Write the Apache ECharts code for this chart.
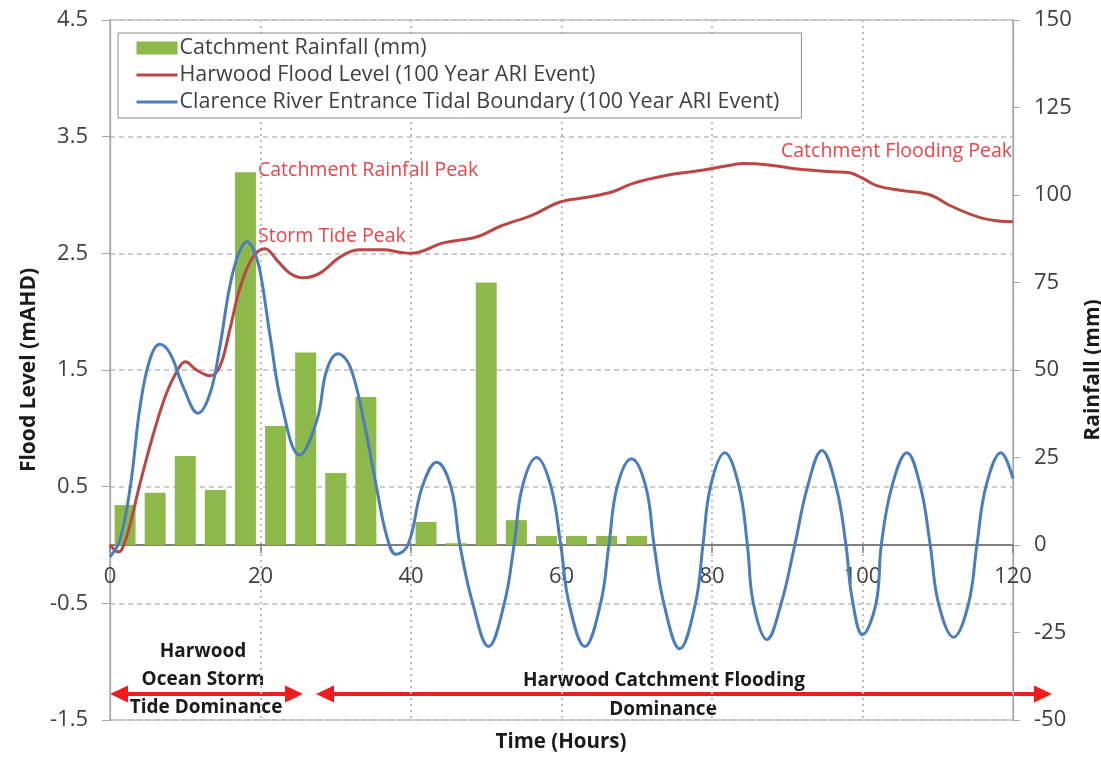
<!DOCTYPE html>
<html>
<head>
<meta charset="utf-8">
<script src="https://cdn.jsdelivr.net/npm/echarts@6/dist/echarts.min.js"></script>
<style>
html,body{margin:0;padding:0;background:#fff;}
#chart{width:1101px;height:767px;}
</style>
</head>
<body>
<div id="chart"></div>
<script>
// ---------- data ----------
const xTicks = [0, 20, 40, 60, 80, 100, 120];
const leftTicks = [-1.5, -0.5, 0.5, 1.5, 2.5, 3.5, 4.5];
const rightTicks = [-50, -25, 0, 25, 50, 75, 100, 125, 150];

const rainHours = [2, 6, 10, 14, 18, 22, 26, 30, 34, 38, 42, 46, 50, 54, 58, 62, 66, 70];
const rainfall  = [11.4, 14.9, 25.4, 15.7, 106.5, 34, 55, 20.6, 42.3, 0, 6.6, 0.5, 75, 7.1, 2.6, 2.6, 2.6, 2.6];

const floodHours = [0, 1.1, 2.2, 4, 5.8, 7.5, 8.9, 10, 11.5, 13.3, 14.6, 15.9, 17.3, 19, 20.6, 22.2, 23.9, 25.7, 27.9, 30.6, 33.2, 36.3, 38.5, 40, 44.3, 48.7, 51.8, 56.2, 59.8, 63.4, 66.9, 69.5, 74, 78.4, 82.8, 84.1, 87.3, 91.7, 96.1, 98.3, 100.1, 101.9, 105, 109, 111.6, 116, 120];
const floodLevel = [0, -0.06, 0.07, 0.53, 0.96, 1.3, 1.49, 1.57, 1.5, 1.45, 1.53, 1.84, 2.21, 2.47, 2.54, 2.44, 2.33, 2.29, 2.33, 2.47, 2.53, 2.53, 2.51, 2.5, 2.59, 2.64, 2.73, 2.83, 2.94, 2.98, 3.03, 3.1, 3.17, 3.21, 3.26, 3.27, 3.26, 3.22, 3.2, 3.19, 3.14, 3.08, 3.04, 3.0, 2.91, 2.8, 2.77];

const tideHours = [0, 1.3, 2.7, 4, 5.3, 6.6, 8, 9.7, 11.7, 13.3, 14.6, 15.9, 17.1, 18.2, 19.0, 19.9, 21.3, 22.8, 25.2, 27.5, 28.8, 30.3, 31.9, 33.7, 35.4, 36.8, 38, 39.6, 41.5, 43.4, 45.3, 46.5, 48.2, 50.3, 52.4, 53.7, 54.8, 56.7, 58.6, 59.9, 61, 63.1, 65.2, 66.3, 67.4, 69.3, 71.2, 72.3, 73.6, 75.7, 77.8, 78.8, 79.8, 81.7, 83.6, 84.7, 85.5, 87.3, 89.2, 91, 92.7, 94.6, 96.5, 97.8, 98.6, 100, 101.8, 102.5, 103.9, 105.9, 107.7, 109, 110.1, 112.1, 114.1, 115.2, 116.4, 118.4, 120];
const tideLevel = [-0.1, 0.04, 0.5, 1.19, 1.59, 1.72, 1.64, 1.36, 1.13, 1.3, 1.7, 2.21, 2.5, 2.6, 2.54, 2.36, 1.78, 1.21, 0.77, 1.07, 1.5, 1.64, 1.53, 1.07, 0.5, 0.07, -0.08, 0, 0.5, 0.71, 0.5, 0, -0.5, -0.87, -0.5, 0, 0.5, 0.75, 0.5, 0, -0.5, -0.87, -0.5, 0, 0.5, 0.74, 0.5, 0, -0.5, -0.89, -0.5, 0, 0.5, 0.79, 0.5, 0, -0.5, -0.81, -0.5, 0, 0.5, 0.81, 0.5, 0, -0.45, -0.77, -0.5, 0, 0.5, 0.79, 0.5, 0, -0.5, -0.79, -0.5, 0, 0.5, 0.79, 0.57];

const seriesNames = [
  'Catchment Rainfall (mm)',
  'Harwood Flood Level (100 Year ARI Event)',
  'Clarence River Entrance Tidal Boundary (100 Year ARI Event)'
];

// ---------- chart ----------
const chart = echarts.init(document.getElementById('chart'), null, {renderer: 'canvas'});
const FONT = 'Open Sans';
const axisLabelStyle = {fontFamily: FONT, fontSize: 22, color: '#404040'};
const redText = '#e8464a';
const GRID = {left: 110, right: 88, top: 20, bottom: 47};
// pixel distance from the grid bottom up to the zero line of the left axis
const zeroOffset = (767 - GRID.top - GRID.bottom) * (0 - leftTicks[0]) / (leftTicks[leftTicks.length - 1] - leftTicks[0]);

function arrowHead(tipX, y, dir) {
  return {
    type: 'polygon',
    shape: {points: [[tipX, y], [tipX - dir * 18, y - 8.5], [tipX - dir * 18, y + 8.5]]},
    style: {fill: '#ee1c1c'}
  };
}
const boldText = (text, x, y, size) => ({
  type: 'text', x: x, y: y,
  style: {text: text, fontFamily: FONT, fontSize: size || 19, fontWeight: 'bold', fill: '#1a1a1a', align: 'center', verticalAlign: 'middle'}
});

const option = {
  animation: false,
  backgroundColor: '#fff',
  grid: Object.assign({show: true, containLabel: false, outerBoundsMode: 'none', borderColor: '#a6a6a6', borderWidth: 1.2, backgroundColor: 'transparent'}, GRID),
  legend: {
    data: [
      {name: seriesNames[0], icon: 'rect'},
      {name: seriesNames[1], itemStyle: {opacity: 0}, lineStyle: {width: 3}},
      {name: seriesNames[2], itemStyle: {opacity: 0}, lineStyle: {width: 3}}
    ],
    orient: 'vertical',
    left: 118, top: 33,
    backgroundColor: '#fff',
    borderColor: '#8c8c8c', borderWidth: 1,
    padding: [4, 22, 5, 17],
    itemGap: 5,
    itemWidth: 41, itemHeight: 13,
    textStyle: {fontFamily: FONT, fontSize: 21.5, lineHeight: 21, color: '#404040', padding: [0, 0, 0, -3]}
  },
  xAxis: {
    type: 'value', min: xTicks[0], max: xTicks[xTicks.length - 1], interval: 20,
    position: 'bottom', offset: -zeroOffset,
    axisLine: {onZero: false, lineStyle: {color: '#808080', width: 2}},
    axisTick: {show: true, length: 8, lineStyle: {color: '#808080', width: 1.5}},
    axisLabel: Object.assign({margin: 21}, axisLabelStyle),
    splitLine: {show: true, lineStyle: {color: '#bdbdbd', type: [2, 4], width: 2}}
  },
  yAxis: [
    {
      type: 'value', min: leftTicks[0], max: leftTicks[leftTicks.length - 1], interval: 1,
      name: 'Flood Level (mAHD)', nameLocation: 'middle', nameGap: 70,
      nameTextStyle: {fontFamily: FONT, fontSize: 21, fontWeight: 'bold', color: '#1a1a1a'},
      axisLine: {show: true, onZero: false, lineStyle: {color: '#a6a6a6', width: 1.2}},
      axisTick: {show: true, length: 8, lineStyle: {color: '#a6a6a6'}},
      axisLabel: Object.assign({margin: 22, formatter: v => v.toFixed(1)}, axisLabelStyle),
      splitLine: {show: true, lineStyle: {color: '#bdbdbd', type: [5, 4], width: 1.5}}
    },
    {
      type: 'value', min: rightTicks[0], max: rightTicks[rightTicks.length - 1], interval: 25,
      position: 'right',
      name: 'Rainfall (mm)', nameLocation: 'middle', nameGap: 65, nameRotate: 90,
      nameTextStyle: {fontFamily: FONT, fontSize: 21, fontWeight: 'bold', color: '#1a1a1a'},
      axisLine: {show: true, onZero: false, lineStyle: {color: '#a6a6a6', width: 1.2}},
      axisTick: {show: true, length: 7, lineStyle: {color: '#a6a6a6'}},
      axisLabel: Object.assign({margin: 21}, axisLabelStyle),
      splitLine: {show: false}
    }
  ],
  series: [
    {
      name: seriesNames[0], type: 'bar', yAxisIndex: 1,
      data: rainHours.map((t, i) => [t, rainfall[i]]),
      barWidth: 21,
      itemStyle: {color: '#8db84a'}
    },
    {
      name: seriesNames[1], type: 'line', yAxisIndex: 0,
      data: floodHours.map((t, i) => [t, floodLevel[i]]),
      smooth: 0.4, symbol: 'none',
      lineStyle: {color: '#bb4744', width: 3},
      itemStyle: {color: '#bb4744'}
    },
    {
      name: seriesNames[2], type: 'line', yAxisIndex: 0,
      data: tideHours.map((t, i) => [t, tideLevel[i]]),
      smooth: 0.4, symbol: 'none',
      lineStyle: {color: '#4a7dbb', width: 3},
      itemStyle: {color: '#4a7dbb'}
    }
  ],
  graphic: [
    {type: 'text', left: 258, top: 160, style: {text: 'Catchment Rainfall Peak', fontFamily: FONT, fontSize: 19.5, fill: redText}},
    {type: 'text', left: 258, top: 226, style: {text: 'Storm Tide Peak', fontFamily: FONT, fontSize: 19.5, fill: redText}},
    {type: 'text', left: 781, top: 141, style: {text: 'Catchment Flooding Peak', fontFamily: FONT, fontSize: 19.5, fill: redText}},

    boldText('Harwood', 203, 652),
    boldText('Ocean Storm', 203, 680),
    boldText('Tide Dominance', 206, 708),
    boldText('Harwood Catchment Flooding', 664, 681),
    boldText('Dominance', 663, 710),
    boldText('Time (Hours)', 561, 742, 20.5),

    {type: 'line', shape: {x1: 124, y1: 694, x2: 289, y2: 694}, style: {stroke: '#ee1c1c', lineWidth: 4}},
    arrowHead(110, 694, -1),
    arrowHead(303, 694, 1),
    {type: 'line', shape: {x1: 330, y1: 694, x2: 1038, y2: 694}, style: {stroke: '#ee1c1c', lineWidth: 4}},
    arrowHead(316, 694, -1),
    arrowHead(1052, 694, 1)
  ]
};
chart.setOption(option);
</script>
</body>
</html>
